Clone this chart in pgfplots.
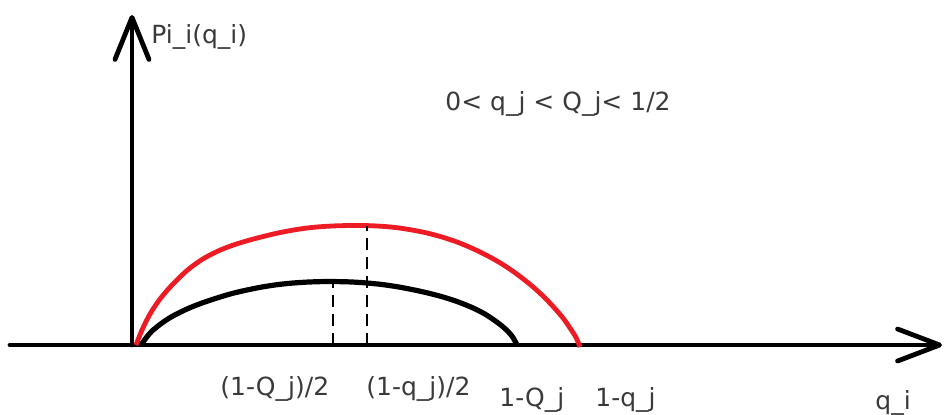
\documentclass[border=0pt]{standalone}
\usepackage{fontspec}
\setmainfont{DejaVu Sans}
\usepackage{pgfplots}
\pgfplotsset{compat=1.18}
\usetikzlibrary{arrows.meta}
\definecolor{paintred}{RGB}{237,28,36}
\definecolor{ink}{HTML}{3A3A3A}

\begin{document}
\begin{tikzpicture}[
    lbl/.style={anchor=base west, inner sep=0pt, text=ink,
        font=\fontsize{12.5}{15}\selectfont},
]
\begin{axis}[
    scale only axis,
    width=472pt, height=207pt,
    xmin=-132, xmax=812,
    ymin=-69, ymax=345,
    axis lines=none,
    clip=false,
]
% axes with open arrowheads
\addplot[black, line width=2.4pt, line cap=round,
    -{Straight Barb[length=21pt, width=16pt, round]}]
    coordinates {(-122,0) (810,0)};
\addplot[black, line width=2.4pt, line cap=round,
    -{Straight Barb[length=21pt, width=17pt, round]}]
    coordinates {(0,0) (0,330)};

% red profit curve (q_j)
\addplot[paintred, line width=2.4pt, smooth] coordinates {
    (4,0) (10,15) (18,31) (28,46) (40,60) (55,74.5) (70,85.5) (85,93.5)
    (100,99.5) (115,104.2) (130,108.2) (145,111.8) (160,114.7) (175,117)
    (190,118.4) (205,119.2) (220,119.5) (235,119.4) (250,118.7)
    (265,117.3) (280,115) (295,112) (310,108) (325,103) (340,96.8)
    (355,89.5) (370,81) (385,70.8) (400,59) (412,48) (422,37.5)
    (431,27) (438,17) (444,7.5) (448,-2)
};

% black profit curve (Q_j)
\addplot[black, line width=2.6pt, smooth] coordinates {
    (9,0) (14,7) (20,14) (30,22) (40,28.5) (55,36) (70,42) (85,47)
    (100,51.5) (115,55) (130,58) (145,60.3) (160,61.9) (175,62.9)
    (190,63.4) (205,63.4) (220,63) (235,62) (250,60.5) (265,58.3)
    (280,55.5) (295,52.2) (310,48.3) (325,43.5) (340,37.5) (352,31.5)
    (362,25) (370,19) (376,13.5) (381,7.5) (385,0)
};

% dashed maxima
\addplot[black, line width=1.4pt, dash pattern=on 6pt off 3.5pt]
    coordinates {(201,0) (201,63)};
\addplot[black, line width=1.4pt, dash pattern=on 6pt off 3.5pt]
    coordinates {(235,0) (235,119)};

\node[lbl] at (axis cs:19,302) {Pi\_i(q\_i)};
\node[lbl] at (axis cs:313,234) {0< q\_j < Q\_j< 1/2};
\node[lbl] at (axis cs:88,-50) {(1-Q\_j)/2};
\node[lbl] at (axis cs:234,-50) {(1-q\_j)/2};
\node[lbl] at (axis cs:367,-61) {1-Q\_j};
\node[lbl] at (axis cs:463,-61) {1-q\_j};
\node[lbl] at (axis cs:743,-64) {q\_i};
\end{axis}
\pgfresetboundingbox
\useasboundingbox (current axis.south west) rectangle (current axis.north east);
\end{tikzpicture}
\end{document}
